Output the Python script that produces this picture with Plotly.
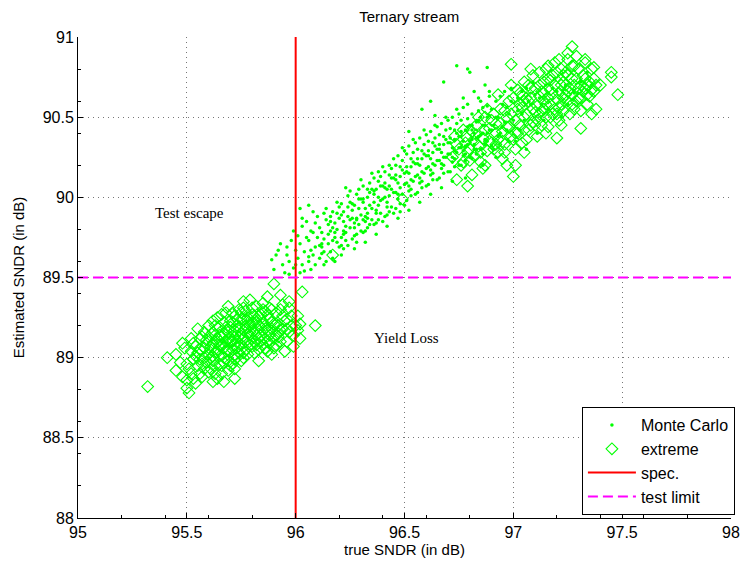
import plotly.graph_objects as go

# Monte Carlo samples: (true SNDR, estimated SNDR) in dB
monte_carlo = [
    (95.89, 89.61), (95.90, 89.55), (95.92, 89.67), (95.94, 89.58), (95.93, 89.71), (95.95, 89.53),
    (95.96, 89.64), (95.97, 89.60), (95.98, 89.73), (95.99, 89.56), (96.00, 89.67), (95.97, 89.52), (95.99, 89.79),
    (96.01, 89.62), (96.02, 89.71), (96.03, 89.58), (96.03, 89.82), (96.04, 89.66), (96.05, 89.75), (96.02, 89.53),
    (96.02, 89.93), (96.03, 89.87),
    (96.06, 89.60), (96.07, 89.67), (96.06, 89.73), (96.08, 89.78), (96.09, 89.84), (96.07, 89.55), (96.09, 89.69),
    (96.10, 89.75), (96.08, 89.91), (96.06, 89.63),
    (96.11, 89.62), (96.12, 89.69), (96.13, 89.74), (96.11, 89.81), (96.14, 89.86), (96.12, 89.71), (96.15, 89.77),
    (96.13, 89.58), (96.14, 89.93), (96.15, 89.83), (96.12, 89.65),
    (96.16, 89.66), (96.17, 89.73), (96.18, 89.78), (96.16, 89.85), (96.19, 89.90), (96.18, 89.75), (96.17, 89.81),
    (96.20, 89.69), (96.19, 89.97), (96.16, 89.88), (96.18, 89.60), (96.20, 89.94),
    (96.21, 89.70), (96.22, 89.77), (96.23, 89.82), (96.21, 89.89), (96.24, 89.94), (96.22, 89.79), (96.25, 89.86),
    (96.23, 89.73), (96.24, 90.01), (96.22, 89.91), (96.21, 89.64), (96.25, 89.97), (96.23, 90.06),
    (96.26, 89.74), (96.27, 89.81), (96.28, 89.86), (96.26, 89.92), (96.29, 89.99), (96.27, 89.84), (96.30, 89.89),
    (96.28, 89.77), (96.29, 90.05), (96.26, 89.96), (96.27, 89.68), (96.30, 90.11), (96.28, 89.87),
    (96.31, 89.78), (96.32, 89.85), (96.33, 89.90), (96.31, 89.97), (96.34, 90.03), (96.32, 89.88), (96.35, 89.93),
    (96.33, 89.81), (96.34, 90.09), (96.31, 89.99), (96.32, 89.72), (96.35, 90.15), (96.33, 90.05),
    (96.36, 89.83), (96.37, 89.90), (96.38, 89.95), (96.36, 90.02), (96.39, 90.07), (96.37, 89.92), (96.40, 89.99),
    (96.38, 89.86), (96.39, 90.13), (96.36, 90.04), (96.37, 89.77), (96.40, 90.19), (96.38, 90.10),
    (96.41, 89.88), (96.42, 89.94), (96.43, 90.01), (96.41, 90.06), (96.44, 90.12), (96.42, 89.97), (96.45, 90.03),
    (96.43, 89.91), (96.44, 90.18), (96.41, 90.09), (96.42, 89.82), (96.45, 90.24), (96.43, 90.14),
    (96.46, 89.93), (96.47, 89.99), (96.48, 90.06), (96.46, 90.11), (96.49, 90.17), (96.47, 90.02), (96.50, 90.08),
    (96.48, 89.96), (96.49, 90.23), (96.46, 90.14), (96.47, 89.87), (96.50, 90.29), (96.48, 90.19),
    (96.51, 89.98), (96.52, 90.04), (96.53, 90.11), (96.51, 90.16), (96.54, 90.22), (96.52, 90.07), (96.55, 90.13),
    (96.53, 90.01), (96.54, 90.28), (96.51, 90.19), (96.52, 89.92), (96.55, 90.34), (96.53, 90.24), (96.52, 90.41),
    (96.56, 90.03), (96.57, 90.09), (96.58, 90.16), (96.56, 90.21), (96.59, 90.27), (96.57, 90.12), (96.60, 90.18),
    (96.58, 90.06), (96.59, 90.33), (96.56, 90.24), (96.57, 89.97), (96.60, 90.39), (96.58, 90.29),
    (96.61, 90.08), (96.62, 90.14), (96.63, 90.21), (96.61, 90.26), (96.64, 90.32), (96.62, 90.17), (96.65, 90.23),
    (96.63, 90.11), (96.64, 90.37), (96.61, 90.29), (96.62, 90.02), (96.65, 90.44), (96.63, 90.34), (96.64, 90.51),
    (96.66, 90.12), (96.67, 90.18), (96.68, 90.25), (96.66, 90.30), (96.69, 90.36), (96.67, 90.21), (96.70, 90.27),
    (96.68, 90.15), (96.69, 90.42), (96.66, 90.33), (96.67, 90.06), (96.70, 90.48), (96.68, 90.38),
    (96.71, 90.16), (96.72, 90.22), (96.73, 90.29), (96.71, 90.34), (96.74, 90.40), (96.72, 90.25), (96.75, 90.31),
    (96.73, 90.19), (96.74, 90.46), (96.71, 90.37), (96.72, 90.10), (96.75, 90.52), (96.73, 90.42), (96.74, 90.82),
    (96.76, 90.20), (96.77, 90.26), (96.78, 90.32), (96.76, 90.38), (96.79, 90.44), (96.77, 90.29), (96.80, 90.35),
    (96.78, 90.23), (96.79, 90.49), (96.76, 90.41), (96.77, 90.56), (96.78, 90.12), (96.79, 90.80),
    (96.81, 90.24), (96.82, 90.30), (96.83, 90.37), (96.81, 90.42), (96.84, 90.48), (96.82, 90.33), (96.85, 90.39),
    (96.83, 90.27), (96.84, 90.54), (96.81, 90.45), (96.85, 90.60),
    (96.86, 90.27), (96.87, 90.33), (96.88, 90.40), (96.86, 90.45), (96.89, 90.51), (96.87, 90.36), (96.90, 90.42),
    (96.88, 90.57), (96.89, 90.63), (96.86, 90.20), (96.88, 90.81),
    (96.91, 90.30), (96.93, 90.38), (96.95, 90.44), (96.92, 90.50), (96.97, 90.56), (96.94, 90.63), (96.98, 90.35),
    (96.96, 90.47), (96.99, 90.68), (96.92, 90.25),
    (97.01, 90.35), (97.03, 90.42), (97.05, 90.48), (97.02, 90.54), (97.07, 90.60), (97.04, 90.66), (97.09, 90.72),
    (97.06, 90.30),
    (97.11, 90.40), (97.14, 90.48), (97.16, 90.55), (97.12, 90.62), (97.18, 90.68), (97.19, 90.74),
    (97.22, 90.50), (97.25, 90.58), (97.28, 90.65), (97.31, 90.72), (97.34, 90.78),
    (95.91, 89.64), (95.96, 89.69), (96.00, 89.58), (96.01, 89.76), (96.04, 89.54), (96.05, 89.85), (96.06, 89.95),
    (96.07, 89.79), (96.08, 89.64), (96.09, 89.58), (96.10, 89.88), (96.11, 89.70), (96.12, 89.78), (96.13, 89.90),
    (96.13, 89.66), (96.14, 89.60), (96.15, 89.71), (96.16, 89.79), (96.17, 89.62), (96.17, 89.91), (96.18, 89.84),
    (96.19, 89.72), (96.19, 89.80), (96.20, 89.87), (96.21, 89.96), (96.21, 89.75), (96.22, 89.68), (96.22, 89.85),
    (96.23, 89.78), (96.24, 89.88), (96.24, 89.70), (96.25, 89.81), (96.25, 90.04), (96.26, 89.87), (96.27, 89.76),
    (96.27, 89.95), (96.28, 90.02), (96.28, 89.72), (96.29, 89.83), (96.29, 89.93), (96.30, 89.79), (96.30, 89.99),
    (96.31, 89.86), (96.31, 90.07), (96.32, 89.93), (96.32, 89.79), (96.33, 90.00), (96.33, 89.87), (96.34, 89.83),
    (96.34, 89.95), (96.35, 90.05), (96.35, 89.86), (96.36, 89.97), (96.36, 90.12), (96.37, 89.84), (96.37, 90.05),
    (96.38, 90.00), (96.38, 90.16), (96.39, 89.90), (96.39, 89.98), (96.40, 90.07), (96.40, 89.85), (96.41, 90.00),
    (96.41, 90.16), (96.42, 90.05), (96.42, 89.89), (96.43, 90.20), (96.43, 90.07), (96.44, 89.94), (96.44, 90.05),
    (96.45, 90.12), (96.45, 89.90), (96.46, 90.03), (96.46, 90.20), (96.47, 90.09), (96.47, 90.26), (96.48, 89.91),
    (96.48, 90.13), (96.49, 90.02), (96.49, 90.31), (96.50, 90.15), (96.50, 89.95), (96.51, 90.09), (96.51, 90.27),
    (96.52, 90.15), (96.52, 90.32), (96.53, 90.05), (96.53, 90.19), (96.54, 90.10), (96.54, 90.36), (96.55, 90.21),
    (96.55, 90.02), (96.56, 90.14), (96.56, 90.30), (96.57, 90.20), (96.57, 90.37), (96.58, 90.10), (96.58, 90.24),
    (96.59, 90.15), (96.59, 90.42), (96.60, 90.26), (96.60, 90.07), (96.61, 90.19), (96.61, 90.35), (96.62, 90.24),
    (96.62, 90.41), (96.63, 90.15), (96.63, 90.28), (96.64, 90.20), (96.64, 90.45), (96.65, 90.30), (96.65, 90.11),
    (96.66, 90.23), (96.66, 90.39), (96.67, 90.28), (96.67, 90.46), (96.68, 90.20), (96.68, 90.33), (96.69, 90.25),
    (96.69, 90.50), (96.70, 90.34), (96.70, 90.16), (96.71, 90.27), (96.71, 90.43), (96.72, 90.31), (96.72, 90.50),
    (96.73, 90.24), (96.73, 90.36), (96.74, 90.28), (96.74, 90.55), (96.75, 90.38), (96.75, 90.20), (96.76, 90.31),
    (96.76, 90.48), (96.77, 90.35), (96.77, 90.62), (96.78, 90.27), (96.78, 90.42), (96.79, 90.33), (96.79, 90.58),
    (96.80, 90.45), (96.80, 90.25), (96.81, 90.36), (96.81, 90.52), (96.82, 90.40), (96.82, 90.66), (96.83, 90.30),
    (96.83, 90.47), (96.84, 90.38), (96.84, 90.62), (96.85, 90.50), (96.85, 90.30), (96.86, 90.40), (96.86, 90.56),
    (96.87, 90.45), (96.87, 90.70), (96.88, 90.35), (96.88, 90.50), (96.89, 90.42), (96.89, 90.66), (96.90, 90.55),
    (96.90, 90.32), (96.91, 90.45), (96.92, 90.60), (96.93, 90.50), (96.94, 90.40), (96.95, 90.58), (96.96, 90.66),
    (96.97, 90.42), (96.98, 90.52), (96.99, 90.60), (97.00, 90.48), (97.02, 90.62), (97.04, 90.52), (97.06, 90.68),
    (97.08, 90.58), (97.10, 90.64), (97.13, 90.58), (97.15, 90.70), (97.20, 90.66), (97.24, 90.70), (96.68, 90.72),
    (96.80, 90.78), (96.62, 90.60), (96.58, 90.55),
]

# Extreme-case samples: lower cluster (fails spec) and upper cluster (passes)
extreme_low = [
    (95.32, 88.82), (95.41, 89.00), (95.45, 88.92), (95.48, 88.88), (95.50, 88.81), (95.51, 88.78), (95.48, 89.09),
    (95.52, 89.12), (95.55, 89.18), (95.60, 89.20), (95.62, 88.85), (95.67, 88.85), (95.72, 88.87), (95.69, 89.32),
    (95.76, 89.35),
    (95.51, 88.93), (95.53, 88.99), (95.52, 89.04), (95.54, 89.07), (95.53, 88.87), (95.54, 89.01), (95.50, 88.96),
    (95.56, 88.90), (95.57, 88.96), (95.58, 89.00), (95.56, 89.05), (95.59, 89.09), (95.57, 89.13), (95.58, 88.93),
    (95.60, 89.02), (95.59, 89.11), (95.56, 88.99),
    (95.61, 88.93), (95.62, 88.98), (95.63, 89.03), (95.61, 89.07), (95.64, 89.12), (95.62, 89.16), (95.63, 89.20),
    (95.64, 89.25), (95.65, 88.96), (95.61, 89.05), (95.64, 89.10), (95.62, 89.01), (95.65, 89.14), (95.63, 88.90),
    (95.66, 88.95), (95.67, 89.00), (95.68, 89.04), (95.66, 89.08), (95.69, 89.12), (95.67, 89.15), (95.68, 89.19),
    (95.70, 89.23), (95.66, 89.27), (95.69, 88.92), (95.67, 89.06), (95.70, 89.10), (95.68, 89.17), (95.66, 89.02),
    (95.69, 88.98),
    (95.71, 88.96), (95.72, 89.02), (95.73, 89.06), (95.71, 89.10), (95.74, 89.13), (95.72, 89.17), (95.73, 89.20),
    (95.75, 89.24), (95.71, 89.28), (95.74, 89.30), (95.72, 89.08), (95.75, 89.15), (95.73, 89.00), (95.71, 89.11),
    (95.74, 89.19), (95.72, 88.93),
    (95.76, 89.00), (95.77, 89.05), (95.78, 89.09), (95.76, 89.12), (95.79, 89.16), (95.77, 89.20), (95.78, 89.23),
    (95.80, 89.27), (95.76, 89.31), (95.79, 89.14), (95.77, 89.18), (95.80, 89.07), (95.78, 89.25), (95.76, 89.03),
    (95.79, 89.36),
    (95.81, 89.03), (95.82, 89.08), (95.83, 89.12), (95.81, 89.15), (95.84, 89.19), (95.82, 89.22), (95.83, 89.26),
    (95.85, 89.30), (95.81, 89.17), (95.84, 89.10), (95.82, 89.24), (95.85, 89.34), (95.83, 88.98),
    (95.86, 89.06), (95.87, 89.10), (95.88, 89.14), (95.86, 89.18), (95.89, 89.22), (95.87, 89.27), (95.88, 89.31),
    (95.90, 89.12), (95.86, 89.20), (95.89, 89.02), (95.87, 89.38),
    (95.91, 89.08), (95.92, 89.13), (95.93, 89.17), (95.91, 89.21), (95.94, 89.26), (95.92, 89.15), (95.95, 89.04),
    (95.93, 89.30), (95.90, 89.46), (95.93, 89.39),
    (95.96, 89.10), (95.97, 89.16), (95.98, 89.20), (95.96, 89.24), (95.99, 89.07), (95.97, 89.31), (95.97, 89.35),
    (96.01, 89.26), (96.02, 89.21), (96.03, 89.41), (96.09, 89.20), (96.02, 89.12),
    (96.17, 89.64), (96.49, 89.99),
    (95.45, 89.02), (95.47, 88.97), (95.49, 89.06), (95.50, 88.86), (95.52, 88.90), (95.53, 89.09), (95.54, 88.84),
    (95.55, 88.95), (95.55, 89.03), (95.56, 89.12), (95.57, 88.88), (95.58, 89.06), (95.58, 89.16), (95.59, 88.97),
    (95.60, 88.91), (95.60, 89.13), (95.61, 89.00), (95.62, 89.09), (95.62, 89.23), (95.63, 88.95), (95.63, 89.14),
    (95.64, 89.05), (95.64, 88.87), (95.65, 89.19), (95.65, 89.08), (95.66, 88.90), (95.66, 89.13), (95.67, 89.22),
    (95.67, 88.97), (95.68, 89.10), (95.68, 89.28), (95.69, 89.04), (95.69, 89.16), (95.70, 88.95), (95.70, 89.19),
    (95.71, 89.05), (95.71, 89.22), (95.72, 88.99), (95.72, 89.13), (95.72, 89.26), (95.73, 89.10), (95.73, 89.24),
    (95.74, 89.03), (95.74, 89.17), (95.75, 89.08), (95.75, 89.28), (95.75, 88.98), (95.76, 89.17), (95.76, 89.24),
    (95.77, 89.10), (95.77, 89.29), (95.78, 89.02), (95.78, 89.15), (95.79, 89.20), (95.79, 89.08), (95.80, 89.22),
    (95.80, 89.31), (95.81, 89.10), (95.81, 89.26), (95.82, 89.14), (95.82, 89.32), (95.83, 89.05), (95.83, 89.20),
    (95.84, 89.14), (95.84, 89.27), (95.85, 89.08), (95.85, 89.22), (95.86, 89.12), (95.86, 89.29), (95.87, 89.17),
    (95.87, 89.04), (95.88, 89.24), (95.88, 89.09), (95.89, 89.18), (95.89, 89.30), (95.90, 89.21), (95.90, 89.06),
    (95.91, 89.14), (95.91, 89.28), (95.92, 89.20), (95.93, 89.10), (95.94, 89.18), (95.94, 89.33), (95.95, 89.23),
    (95.96, 89.18), (95.98, 89.26), (95.99, 89.14), (96.00, 89.20), (96.01, 89.17),
]

extreme_high = [
    (96.99, 90.83), (97.27, 90.94), (97.25, 90.90), (97.33, 90.86), (97.45, 90.78), (97.45, 90.75), (97.48, 90.64),
    (97.38, 90.55), (97.31, 90.43), (97.20, 90.37), (97.01, 90.20), (97.00, 90.13), (96.79, 90.07), (96.74, 90.11),
    (96.87, 90.20), (96.81, 90.14), (96.77, 90.22), (97.21, 90.86), (97.37, 90.81), (97.40, 90.70), (97.36, 90.52),
    (97.22, 90.45),
    (96.72, 90.25), (96.75, 90.30), (96.78, 90.34), (96.73, 90.38), (96.76, 90.20), (96.79, 90.28), (96.77, 90.42),
    (96.80, 90.23), (96.74, 90.33),
    (96.82, 90.26), (96.84, 90.32), (96.86, 90.37), (96.81, 90.41), (96.88, 90.29), (96.83, 90.45), (96.87, 90.50),
    (96.85, 90.22), (96.89, 90.43), (96.82, 90.35), (96.86, 90.18), (96.88, 90.55), (96.90, 90.34),
    (96.91, 90.30), (96.93, 90.36), (96.95, 90.41), (96.92, 90.46), (96.97, 90.50), (96.94, 90.55), (96.99, 90.38),
    (96.96, 90.28), (96.98, 90.60), (96.91, 90.52), (96.95, 90.24), (96.97, 90.44), (96.93, 90.64), (96.99, 90.70),
    (96.96, 90.33), (96.92, 90.40),
    (97.01, 90.40), (97.03, 90.45), (97.05, 90.50), (97.02, 90.55), (97.07, 90.60), (97.04, 90.64), (97.09, 90.47),
    (97.06, 90.36), (97.08, 90.68), (97.01, 90.30), (97.05, 90.72), (97.03, 90.58), (97.10, 90.53), (97.07, 90.42),
    (97.02, 90.67), (97.09, 90.76), (97.04, 90.34), (97.06, 90.62),
    (97.11, 90.48), (97.13, 90.54), (97.15, 90.58), (97.12, 90.63), (97.17, 90.67), (97.14, 90.72), (97.19, 90.55),
    (97.16, 90.44), (97.18, 90.76), (97.11, 90.38), (97.15, 90.80), (97.13, 90.66), (97.20, 90.61), (97.17, 90.50),
    (97.12, 90.70), (97.19, 90.84), (97.14, 90.60), (97.16, 90.74),
    (97.21, 90.56), (97.23, 90.62), (97.25, 90.66), (97.22, 90.70), (97.27, 90.74), (97.24, 90.78), (97.29, 90.60),
    (97.26, 90.52), (97.28, 90.82), (97.21, 90.48), (97.25, 90.86), (97.23, 90.72), (97.30, 90.68), (97.27, 90.58),
    (97.22, 90.80), (97.29, 90.88), (97.24, 90.64),
    (97.31, 90.62), (97.33, 90.68), (97.35, 90.72), (97.32, 90.76), (97.37, 90.66), (97.34, 90.58), (97.36, 90.80),
    (97.31, 90.54), (97.38, 90.70), (97.33, 90.84), (97.35, 90.63),
    (96.78, 90.38), (96.80, 90.30), (96.83, 90.39), (96.85, 90.28), (96.87, 90.42), (96.89, 90.35), (96.90, 90.48),
    (96.92, 90.33), (96.94, 90.46), (96.95, 90.35), (96.96, 90.54), (96.98, 90.44), (96.99, 90.52), (97.00, 90.36),
    (97.00, 90.62), (97.01, 90.48), (97.02, 90.40), (97.03, 90.65), (97.04, 90.56), (97.05, 90.42), (97.05, 90.60),
    (97.06, 90.52), (97.07, 90.70), (97.08, 90.45), (97.08, 90.62), (97.09, 90.55), (97.10, 90.68), (97.10, 90.45),
    (97.11, 90.57), (97.12, 90.52), (97.12, 90.78), (97.13, 90.45), (97.14, 90.65), (97.14, 90.55), (97.15, 90.50),
    (97.16, 90.62), (97.16, 90.82), (97.17, 90.58), (97.17, 90.73), (97.18, 90.52), (97.18, 90.64), (97.19, 90.70),
    (97.20, 90.52), (97.20, 90.78), (97.21, 90.65), (97.22, 90.58), (97.23, 90.76), (97.23, 90.54), (97.24, 90.70),
    (97.25, 90.60), (97.25, 90.76), (97.26, 90.68), (97.27, 90.64), (97.27, 90.82), (97.28, 90.70), (97.28, 90.55),
    (97.29, 90.74), (97.30, 90.62), (97.30, 90.80), (97.31, 90.70), (97.32, 90.66), (97.33, 90.74), (97.34, 90.64),
    (97.34, 90.70), (97.36, 90.67), (97.37, 90.74), (97.05, 90.28), (96.93, 90.28), (97.15, 90.40), (96.97, 90.20),
    (96.84, 90.50), (97.08, 90.80),
]

spec_sndr = 96.0        # specification on true SNDR
test_limit = 89.5       # test limit on estimated SNDR
x_range = [95, 98]
y_range = [88, 91]
x_ticks = [95, 95.5, 96, 96.5, 97, 97.5, 98]
y_ticks = [88, 88.5, 89, 89.5, 90, 90.5, 91]

GREEN = "#00ff00"
FONT = "Liberation Sans, Arial, sans-serif"
SERIF = "Liberation Serif, Times New Roman, serif"

mc_x, mc_y = zip(*monte_carlo)
ex_x, ex_y = zip(*(extreme_low + extreme_high))

fig = go.Figure()
fig.add_trace(go.Scatter(
    x=mc_x, y=mc_y, mode="markers", name="Monte Carlo",
    marker=dict(symbol="circle", size=3.5, color=GREEN, line=dict(width=0)),
))
fig.add_trace(go.Scatter(
    x=ex_x, y=ex_y, mode="markers", name="extreme",
    marker=dict(symbol="diamond-open", size=9, color=GREEN, line=dict(width=1.1, color=GREEN)),
))
fig.add_trace(go.Scatter(
    x=[spec_sndr, spec_sndr], y=y_range, mode="lines", name="spec.",
    line=dict(color="#ff0000", width=2),
))
fig.add_trace(go.Scatter(
    x=x_range, y=[test_limit, test_limit], mode="lines", name="test limit",
    line=dict(color="#ff00ff", width=2, dash="10px,5px"),
))

fig.add_annotation(x=95.51, y=89.90, text="Test escape", showarrow=False,
                   font=dict(family=SERIF, size=15, color="black"))
fig.add_annotation(x=96.51, y=89.12, text="Yield Loss", showarrow=False,
                   font=dict(family=SERIF, size=15, color="black"))

axis_common = dict(
    showgrid=True, gridcolor="#777777", griddash="1px,4px", gridwidth=1,
    zeroline=False, showline=True, linecolor="black", linewidth=1,
    ticks="inside", ticklen=5, tickcolor="black",
    tickfont=dict(family=FONT, size=16, color="black"),
    minor=dict(ticks="inside", ticklen=3, tickcolor="black", showgrid=False),
)

fig.update_xaxes(range=x_range, tickvals=x_ticks, ticktext=[f"{v:g}" for v in x_ticks],
                 title=dict(text="true SNDR (in dB)", font=dict(family=FONT, size=15, color="black"), standoff=2),
                 **axis_common)
fig.update_yaxes(range=y_range, tickvals=y_ticks, ticktext=[f"{v:g}" for v in y_ticks],
                 title=dict(text="Estimated SNDR (in dB)", font=dict(family=FONT, size=15, color="black"), standoff=14),
                 **axis_common)

fig.update_layout(
    width=751, height=565,
    margin=dict(l=78, r=11, t=37, b=45),
    paper_bgcolor="white", plot_bgcolor="white",
    title=dict(text="Ternary stream", x=0.545, xanchor="center", y=0.97, yanchor="middle",
               font=dict(family=FONT, size=15, color="black")),
    legend=dict(x=1.006, y=0.006, xanchor="right", yanchor="bottom",
                bgcolor="white", bordercolor="black", borderwidth=1,
                font=dict(family=FONT, size=16, color="black"),
                itemwidth=48, tracegroupgap=0),
    showlegend=True,
)

fig.write_html("out.html")
